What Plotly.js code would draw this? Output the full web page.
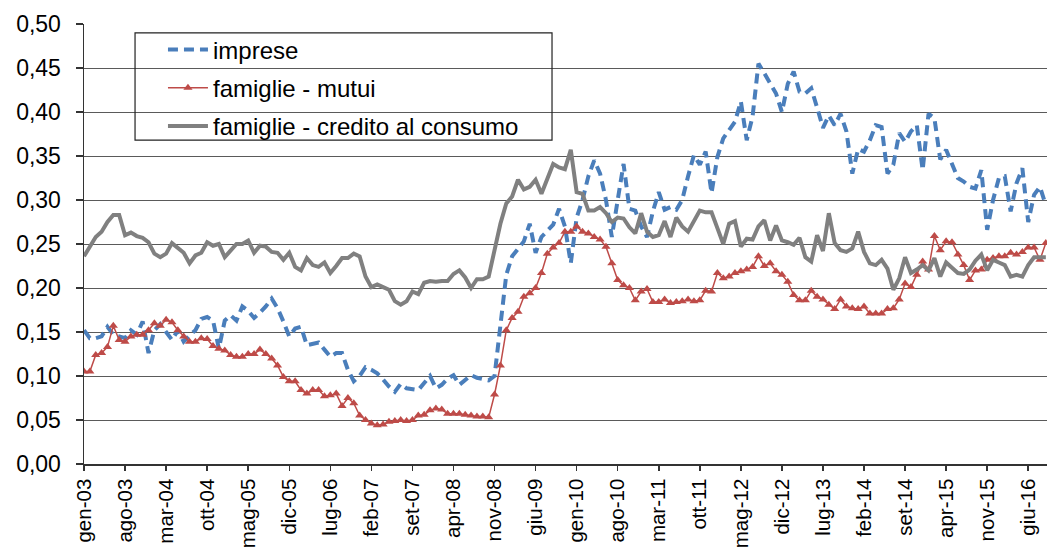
<!DOCTYPE html>
<html>
<head>
<meta charset="utf-8">
<script src="https://cdn.plot.ly/plotly-3.0.1.min.js"></script>
<style>html,body{margin:0;padding:0;background:#fff;}#chart{width:1047px;height:548px;}</style>
</head>
<body>
<div id="chart"></div>
<script>
// Monthly series, gen-03 .. set-16
const imprese = [
0.152,0.143,0.143,0.145,0.156,0.147,0.145,0.143,0.152,0.147,
0.162,0.126,0.152,0.159,0.150,0.141,0.152,0.139,0.146,0.152,
0.165,0.167,0.163,0.131,0.163,0.169,0.163,0.179,0.174,0.166,
0.172,0.179,0.188,0.177,0.162,0.145,0.154,0.156,0.135,0.137,
0.138,0.130,0.122,0.126,0.126,0.107,0.094,0.100,0.110,0.107,
0.103,0.096,0.088,0.082,0.091,0.086,0.085,0.084,0.092,0.100,
0.086,0.090,0.097,0.101,0.090,0.096,0.101,0.098,0.097,0.095,
0.100,0.160,0.215,0.236,0.245,0.253,0.273,0.240,0.258,0.265,
0.272,0.290,0.270,0.228,0.280,0.300,0.327,0.345,0.330,0.300,
0.258,0.300,0.341,0.290,0.288,0.270,0.258,0.287,0.309,0.289,
0.292,0.289,0.300,0.327,0.351,0.340,0.355,0.308,0.349,0.370,
0.380,0.389,0.412,0.368,0.395,0.455,0.444,0.432,0.421,0.400,
0.432,0.446,0.423,0.421,0.427,0.405,0.382,0.396,0.385,0.398,
0.378,0.330,0.358,0.355,0.368,0.385,0.383,0.330,0.340,0.376,
0.366,0.378,0.385,0.334,0.398,0.393,0.346,0.357,0.340,0.325,
0.321,0.315,0.313,0.334,0.266,0.300,0.325,0.327,0.287,0.319,
0.336,0.275,0.306,0.315,0.294];

const mutui = [
0.105,0.105,0.124,0.126,0.133,0.157,0.141,0.139,0.145,0.147,
0.147,0.152,0.160,0.157,0.164,0.161,0.152,0.145,0.139,0.139,
0.143,0.142,0.134,0.131,0.129,0.124,0.122,0.122,0.125,0.125,
0.130,0.125,0.120,0.112,0.099,0.094,0.094,0.084,0.080,0.084,
0.084,0.077,0.078,0.080,0.066,0.075,0.069,0.055,0.050,0.046,
0.044,0.045,0.048,0.049,0.050,0.049,0.050,0.055,0.056,0.061,
0.063,0.062,0.057,0.057,0.057,0.056,0.055,0.054,0.054,0.053,
0.079,0.112,0.152,0.166,0.173,0.190,0.194,0.200,0.217,0.239,
0.246,0.251,0.264,0.264,0.270,0.264,0.262,0.258,0.255,0.247,
0.228,0.209,0.203,0.200,0.186,0.196,0.199,0.184,0.184,0.187,
0.183,0.184,0.185,0.187,0.185,0.186,0.197,0.196,0.217,0.211,
0.213,0.217,0.219,0.221,0.224,0.236,0.225,0.228,0.219,0.215,
0.207,0.192,0.186,0.186,0.197,0.190,0.187,0.181,0.176,0.187,
0.179,0.177,0.176,0.179,0.171,0.171,0.171,0.176,0.177,0.187,
0.205,0.201,0.215,0.230,0.221,0.259,0.243,0.253,0.252,0.238,
0.226,0.209,0.220,0.221,0.232,0.234,0.236,0.236,0.240,0.238,
0.241,0.246,0.246,0.232,0.251];

const consumo = [
0.236,0.248,0.258,0.264,0.275,0.283,0.283,0.260,0.263,0.259,
0.257,0.252,0.239,0.235,0.239,0.251,0.245,0.240,0.228,0.237,
0.240,0.252,0.248,0.250,0.235,0.243,0.250,0.250,0.254,0.240,
0.248,0.247,0.241,0.240,0.232,0.240,0.224,0.220,0.234,0.226,
0.224,0.229,0.217,0.225,0.234,0.234,0.239,0.236,0.213,0.201,
0.204,0.201,0.198,0.185,0.181,0.185,0.196,0.193,0.206,0.208,
0.207,0.208,0.208,0.216,0.220,0.212,0.200,0.210,0.210,0.213,
0.243,0.273,0.296,0.304,0.323,0.312,0.315,0.323,0.307,0.323,
0.341,0.337,0.335,0.357,0.309,0.307,0.288,0.288,0.292,0.285,
0.275,0.280,0.279,0.269,0.262,0.285,0.264,0.258,0.260,0.276,
0.258,0.280,0.270,0.264,0.275,0.288,0.286,0.286,0.268,0.250,
0.273,0.276,0.247,0.256,0.255,0.270,0.277,0.254,0.271,0.254,
0.252,0.249,0.257,0.235,0.230,0.260,0.242,0.285,0.251,0.243,
0.241,0.245,0.264,0.241,0.228,0.226,0.232,0.222,0.198,0.211,
0.235,0.217,0.221,0.226,0.220,0.234,0.213,0.229,0.223,0.217,
0.216,0.221,0.231,0.238,0.220,0.232,0.229,0.226,0.213,0.215,
0.213,0.226,0.235,0.235,0.235];

const xTickLabels = ['gen-03','ago-03','mar-04','ott-04','mag-05','dic-05','lug-06','feb-07','set-07','apr-08','nov-08','giu-09','gen-10','ago-10','mar-11','ott-11','mag-12','dic-12','lug-13','feb-14','set-14','apr-15','nov-15','giu-16'];
const xTickStep = 7;
const yTickVals = [0,0.05,0.10,0.15,0.20,0.25,0.30,0.35,0.40,0.45,0.50];
const yTickLabels = ['0,00','0,05','0,10','0,15','0,20','0,25','0,30','0,35','0,40','0,45','0,50'];
const seriesNames = ['imprese','famiglie - mutui','famiglie - credito al consumo'];

const months = imprese.map((_, i) => i);
const xTickVals = xTickLabels.map((_, i) => i * xTickStep);

const FONT = 'Liberation Sans, Arial, sans-serif';

const traces = [
  {x: months, y: imprese, name: seriesNames[0], type: 'scatter', mode: 'lines', legendgroup: 'a',
   line: {color: '#4A7EBB', width: 4, dash: '10px,6px'}},
  {x: months, y: mutui, name: seriesNames[1], type: 'scatter', mode: 'lines+markers', legendgroup: 'b',
   line: {color: '#BE4B48', width: 1.5},
   marker: {symbol: 'triangle-up', size: 8, color: '#BE4B48'}},
  {x: months, y: consumo, name: seriesNames[2], type: 'scatter', mode: 'lines', legendgroup: 'c',
   line: {color: '#808080', width: 4}}
];

const layout = {
  width: 1047, height: 548,
  margin: {l: 84, r: 0, t: 24, b: 84},
  paper_bgcolor: '#fff', plot_bgcolor: '#fff',
  font: {family: FONT, size: 23, color: '#000'},
  showlegend: true,
  legend: {x: 0.082, y: 0.992, xanchor: 'left', yanchor: 'top',
           bgcolor: 'rgba(0,0,0,0)', borderwidth: 0, itemwidth: 40,
           traceorder: 'grouped', tracegroupgap: 4,
           font: {family: FONT, size: 24, color: '#000'}},
  xaxis: {range: [0, 164.2], tickvals: xTickVals, ticktext: xTickLabels, tickangle: -90,
          showgrid: false, zeroline: false, showline: true, linecolor: '#333', linewidth: 1.5,
          ticks: 'outside', ticklen: 5, tickcolor: '#333', tickwidth: 1.5,
          tickfont: {family: FONT, size: 20.5, color: '#000'}, fixedrange: true},
  yaxis: {range: [0, 0.5], tickvals: yTickVals, ticktext: yTickLabels,
          showgrid: true, gridcolor: '#5a5a5a', gridwidth: 1, zeroline: false,
          showline: true, linecolor: '#333', linewidth: 1.5,
          ticks: 'outside', ticklen: 7, tickcolor: '#333', tickwidth: 1.2,
          ticklabelstandoff: 10,
          tickfont: {family: FONT, size: 23, color: '#000'}, fixedrange: true},
  shapes: [{type: 'rect', xref: 'paper', yref: 'paper',
            x0: 0.053, x1: 0.486, y0: 0.736, y1: 0.98,
            line: {color: '#222', width: 1.2}, fillcolor: 'rgba(0,0,0,0)', layer: 'above'}]
};

Plotly.newPlot('chart', traces, layout, {displayModeBar: false, staticPlot: true});
</script>
</body>
</html>
